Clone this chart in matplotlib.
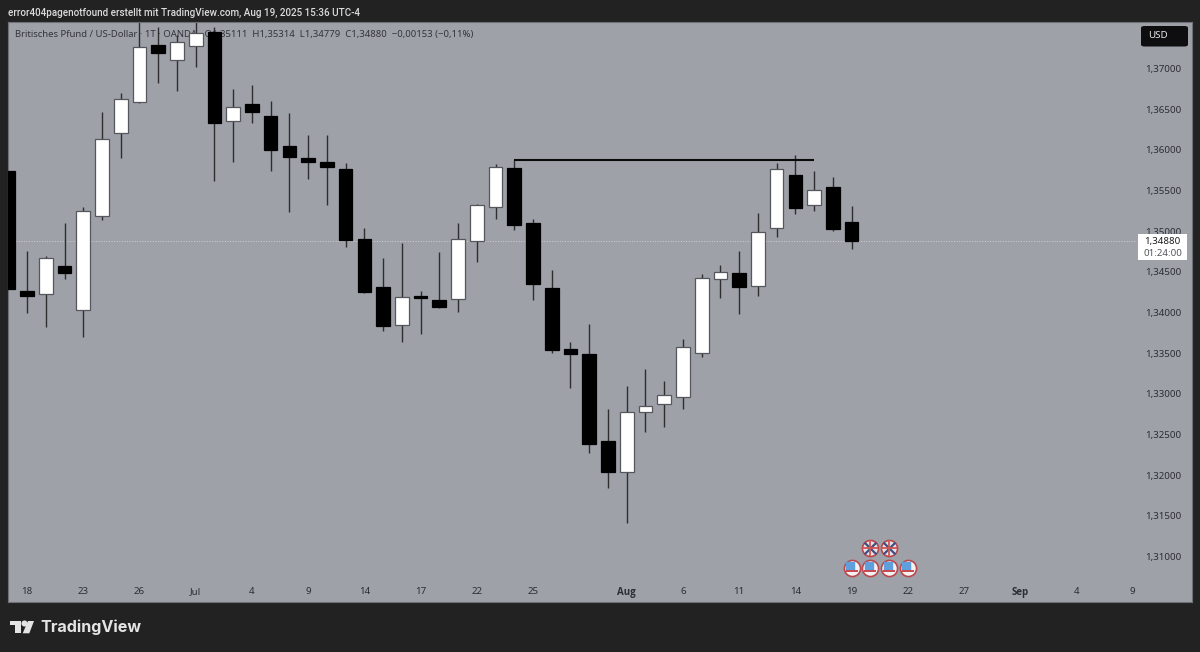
import matplotlib
matplotlib.use('Agg')
import matplotlib.pyplot as plt
from matplotlib.patches import Rectangle, FancyBboxPatch, Polygon

plt.rcParams['font.family'] = ['Noto Sans', 'DejaVu Sans']

W, H = 1200, 652

# daily GBP/USD candles, first one is cut by the left edge
open_ = [1.35739, 1.34267, 1.34223, 1.34567, 1.34026, 1.35189, 1.36203, 1.36592, 1.37293, 1.37101,
         1.37277, 1.37453, 1.36351, 1.36560, 1.36419, 1.36047, 1.35895, 1.35846, 1.35760, 1.34899,
         1.34316, 1.33845, 1.34196, 1.34153, 1.34165, 1.34878, 1.35296, 1.35780, 1.35103, 1.34300,
         1.33554, 1.33485, 1.32415, 1.32033, 1.32779, 1.32870, 1.32956, 1.33497, 1.34407, 1.34488,
         1.34328, 1.35034, 1.35686, 1.35321, 1.35539, 1.35111]
high = [1.35739, 1.34759, 1.34694, 1.35103, 1.35300, 1.36469, 1.36702, 1.37650, 1.37514, 1.37412,
        1.37650, 1.37514, 1.36744, 1.36797, 1.36604, 1.36449, 1.36182, 1.36182, 1.35841, 1.35034,
        1.34665, 1.34850, 1.34267, 1.34747, 1.35103, 1.35333, 1.35825, 1.35875, 1.35145, 1.34522,
        1.33632, 1.33854, 1.32812, 1.33098, 1.33300, 1.33156, 1.33677, 1.34469, 1.34579, 1.34759,
        1.35226, 1.35834, 1.35936, 1.35743, 1.35662, 1.35314]
low = [1.34282, 1.33996, 1.33824, 1.34407, 1.33697, 1.35137, 1.35895, 1.36572, 1.36818, 1.36727,
       1.37022, 1.35620, 1.35846, 1.36333, 1.35743, 1.35239, 1.35637, 1.35321, 1.34801, 1.34235,
       1.33775, 1.33640, 1.33731, 1.34054, 1.34009, 1.34616, 1.35145, 1.35014, 1.34153, 1.33504,
       1.33070, 1.32274, 1.31844, 1.31406, 1.32533, 1.32590, 1.32808, 1.33448, 1.34173, 1.33980,
       1.34202, 1.34924, 1.35207, 1.35251, 1.35005, 1.34779]
close = [1.34282, 1.34202, 1.34673, 1.34485, 1.35244, 1.36137, 1.36625, 1.37264, 1.37191, 1.37330,
         1.37440, 1.36333, 1.36530, 1.36461, 1.35998, 1.35915, 1.35846, 1.35785, 1.34891, 1.34255,
         1.33836, 1.34193, 1.34177, 1.34070, 1.34907, 1.35325, 1.35792, 1.35071, 1.34353, 1.33534,
         1.33492, 1.32378, 1.32033, 1.32779, 1.32845, 1.32988, 1.33571, 1.34419, 1.34501, 1.34309,
         1.34993, 1.35760, 1.35288, 1.35509, 1.35022, 1.34880]

price_ticks = [1.37, 1.365, 1.36, 1.355, 1.35, 1.345, 1.34, 1.335, 1.33, 1.325, 1.32, 1.315, 1.31]
price_labels = ['1,37000', '1,36500', '1,36000', '1,35500', '1,35000', '1,34500', '1,34000',
                '1,33500', '1,33000', '1,32500', '1,32000', '1,31500', '1,31000']
date_pos = [1, 4, 7, 10, 13, 16, 19, 22, 25, 28, 33, 36, 39, 42, 45, 48, 51, 54, 57, 60]
date_labels = ['18', '23', '26', 'Jul', '4', '9', '14', '17', '22', '25', 'Aug', '6', '11', '14',
               '19', '22', '27', 'Sep', '4', '9']
bold_dates = ['Aug', 'Sep']

level_start, level_end, level_price = 27, 43, 1.35875
last_price = 1.34880
us_events = [45, 46, 47, 48]
uk_events = [46, 47]
us_row, uk_row = 1.30856, 1.31102

BG = '#222222'
PANEL = '#9fa1a9'
TXT = '#2c2e34'

fig = plt.figure(figsize=(W / 100, H / 100), dpi=100, facecolor=BG)
ax = fig.add_axes([8 / W, 1 - 602 / H, (1191.7 - 8) / W, (602 - 22) / H], facecolor=PANEL)


def px(x, y):
    return x / W, 1 - y / H


ax.set_xlim(-0.016, 63.15)
ax.set_ylim(1.30438, 1.37572)
for s in ax.spines.values():
    s.set_color('#6e7076')
    s.set_linewidth(0.8)

ax.yaxis.tick_right()
ax.set_yticks(price_ticks, price_labels)
ax.set_xticks(date_pos, date_labels)
ax.tick_params(axis='y', length=0, pad=-33.5, labelsize=7, labelcolor=TXT)
ax.tick_params(axis='x', length=0, pad=-10.5, labelsize=7, labelcolor=TXT)
for lab in ax.get_xticklabels():
    if lab.get_text() in bold_dates:
        lab.set_family('Open Sans')
        lab.set_fontweight('bold')

# legend line sits under the candles
ax.annotate('Britisches Pfund / US-Dollar · 1T · OANDA · O1,35111  H1,35314  L1,34779  C1,34880  −0,00153 (−0,11%)',
            xy=px(15, 34.5), xycoords='figure fraction', fontsize=6.85, color='#33353b', va='center', zorder=1)

idx = list(range(len(close)))
ax.plot([idx[0], 60.2], [last_price, last_price], color='#cfd0d4', lw=0.7, ls=':', zorder=1.2)
ax.vlines(idx, low, high, color='#2e2e30', lw=1.0, zorder=2)
colors = ['#ffffff' if c >= o else '#000000' for o, c in zip(open_, close)]
edges = ['#55575c' if c >= o else '#000000' for o, c in zip(open_, close)]
ax.bar(idx, [abs(c - o) for o, c in zip(open_, close)], bottom=[min(o, c) for o, c in zip(open_, close)],
       width=0.73, color=colors, edgecolor=edges, linewidth=0.9, zorder=3)
ax.plot([level_start, level_end], [level_price, level_price], color='#0a0a0a', lw=1.5, zorder=4,
        solid_capstyle='butt')

# event flags
ax.scatter(us_events, [us_row] * 4, s=135, c='#f2f2f4', edgecolors='#b9474c', linewidths=1.2, zorder=5)
ax.scatter([e - 0.07 for e in us_events], [us_row + 0.00028] * 4, s=34, marker='s', c='#5f9fdc', zorder=6)
ax.scatter(us_events, [us_row - 0.00035] * 4, s=75, marker='_', c='#c9474c', linewidths=1.4, zorder=6)
ax.scatter(uk_events, [uk_row] * 2, s=135, c='#e6e4ea', edgecolors='#b9474c', linewidths=1.2, zorder=5)
ax.scatter(uk_events, [uk_row] * 2, s=70, marker='x', c='#3f4f80', linewidths=1.6, zorder=6)
ax.scatter(uk_events, [uk_row] * 2, s=120, marker='+', c='#d0564f', linewidths=1.3, zorder=7)

tf = fig.transFigure
# price tag and currency button
x0, y0 = px(1137.7, 260)
x1, y1 = px(1187, 234)
ax.add_patch(Rectangle((x0, y0), x1 - x0, y1 - y0, transform=tf, fc='white', ec='none', zorder=8, clip_on=False))
ax.text(*px(1162.5, 241.5), '1,34880', transform=tf, fontsize=7, color='#1e1e22', ha='center', va='center', zorder=9)
ax.text(*px(1162.5, 253.5), '01:24:00', transform=tf, fontsize=7, color='#55575d', ha='center', va='center', zorder=9)

x0, y0 = px(1141, 46.5)
x1, y1 = px(1188, 26)
ax.add_patch(FancyBboxPatch((x0, y0), x1 - x0, y1 - y0, boxstyle='round,pad=0,rounding_size=0.003',
                            transform=tf, fc='#0e0e10', ec='none', zorder=8, clip_on=False))
ax.text(*px(1148, 36), 'USD', transform=tf, fontsize=7, color='#e8e8e8', va='center', zorder=9)

fig.text(*px(8, 12.5), 'error404pagenotfound erstellt mit TradingView.com, Aug 19, 2025 15:36 UTC-4',
         fontsize=7.15, family='Roboto', fontweight='medium', color='#dcdcdc', va='center')
fig.text(*px(40.5, 627), 'TradingView', fontsize=11.6, family='Inter', fontweight='bold', color='#e4e4e4', va='center')

# logo
logo = '#e4e4e4'
fig.add_artist(Polygon([px(10, 621), px(20.7, 621), px(20.7, 633.3), px(14.7, 633.3), px(14.7, 625), px(10, 625)],
                       closed=True, fc=logo, ec='none', transform=tf))
fig.add_artist(Polygon([px(28, 621), px(34, 621), px(29.3, 633.3), px(22.7, 633.3)], closed=True, fc=logo,
                       ec='none', transform=tf))
fig.add_artist(plt.Line2D([24.3 / W], [1 - 623.3 / H], marker='o', ms=4.4, mfc=logo, mec='none', transform=tf))

fig.savefig('out.png', dpi=100, facecolor=BG)
